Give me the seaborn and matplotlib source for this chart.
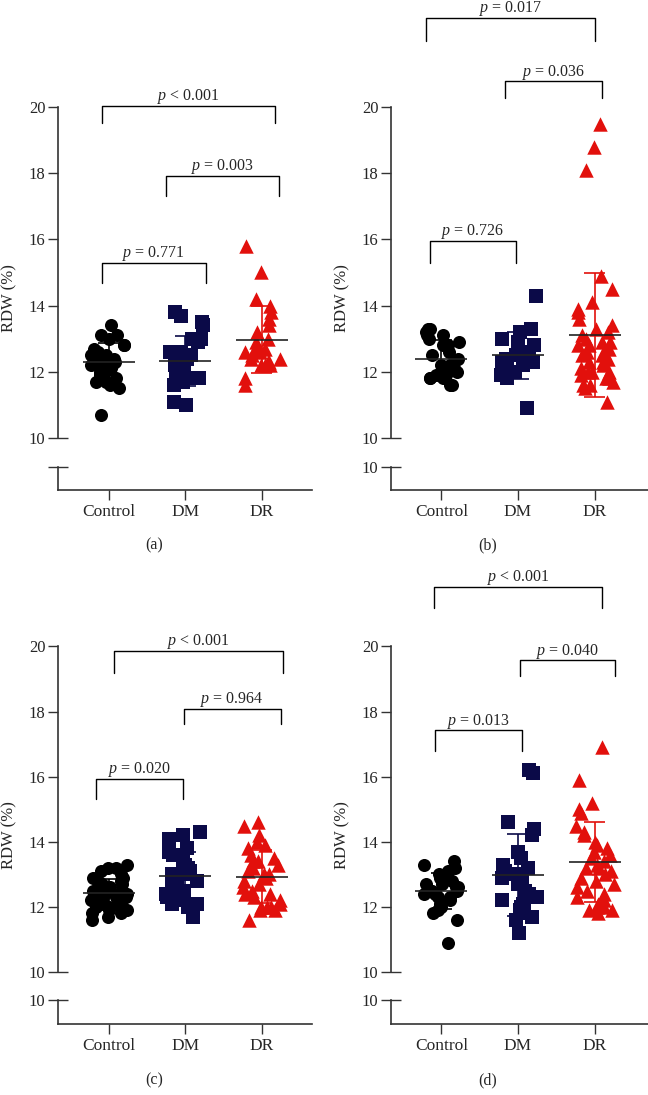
import numpy as np
import pandas as pd
import matplotlib
matplotlib.use("Agg")
import matplotlib.pyplot as plt
import seaborn as sns

sns.set_style("ticks")
plt.rcParams['font.family'] = ['Liberation Serif', 'DejaVu Serif']
plt.rcParams['mathtext.fontset'] = 'custom'
plt.rcParams['mathtext.rm'] = 'Liberation Serif'
plt.rcParams['mathtext.it'] = 'Liberation Serif:italic'

np.random.seed(3)

groups = ['Control', 'DM', 'DR']
colors = ['#000000', '#0b0a48', '#e2100c']
markers = ['o', 's', '^']
marker_sizes = [9.4, 9.4, 10.4]
panel_labels = ['(a)', '(b)', '(c)', '(d)']
lower_tick_labels = ['', '10', '10', '10']

# RDW values per panel and group
a_control = [13.4, 13.1, 13.1, 13.0, 12.8, 12.8, 12.7, 12.6, 12.5, 12.5, 12.5, 12.4, 12.4,
             12.3, 12.3, 12.2, 12.2, 12.1, 12.0, 12.0, 11.9, 11.8, 11.7, 11.7, 11.6, 11.5, 10.7]
a_dm = [13.8, 13.7, 13.5, 13.4, 13.0, 13.0, 12.9, 12.6, 12.6, 12.5, 12.4, 12.3, 12.2,
        12.1, 12.0, 12.0, 12.0, 11.9, 11.8, 11.8, 11.8, 11.7, 11.7, 11.6, 11.1, 11.0]
a_dr = [15.8, 15.0, 14.2, 14.0, 13.8, 13.6, 13.4, 13.2, 13.0, 12.9, 12.7, 12.7, 12.6,
        12.6, 12.5, 12.4, 12.4, 12.3, 12.3, 12.2, 12.2, 12.2, 11.8, 11.6]

b_control = [13.3, 13.3, 13.2, 13.1, 13.1, 13.0, 12.9, 12.8, 12.8, 12.6, 12.5, 12.4, 12.3,
             12.2, 12.2, 12.1, 12.1, 12.0, 12.0, 11.9, 11.9, 11.8, 11.8, 11.8, 11.6, 11.6]
b_dm = [14.3, 13.3, 13.2, 13.0, 12.9, 12.8, 12.6, 12.5, 12.5, 12.4, 12.4, 12.3, 12.3,
        12.2, 12.1, 12.0, 11.9, 11.8, 10.9]
b_dr = [19.5, 18.8, 18.1, 14.9, 14.5, 14.1, 13.9, 13.8, 13.6, 13.4, 13.3, 13.2, 13.1,
        13.0, 12.9, 12.9, 12.8, 12.8, 12.7, 12.6, 12.6, 12.5, 12.5, 12.4, 12.3, 12.3,
        12.2, 12.1, 12.0, 12.0, 12.0, 11.9, 11.8, 11.8, 11.7, 11.6, 11.6, 11.5, 11.1]

c_control = [13.3, 13.2, 13.2, 13.1, 13.0, 12.9, 12.9, 12.8, 12.8, 12.7, 12.7, 12.6, 12.6,
             12.6, 12.5, 12.5, 12.5, 12.4, 12.4, 12.4, 12.3, 12.3, 12.3, 12.3, 12.2, 12.2,
             12.2, 12.1, 12.1, 12.0, 12.0, 11.9, 11.9, 11.8, 11.8, 11.7, 11.6]
c_dm = [14.3, 14.2, 14.1, 14.0, 13.8, 13.7, 13.6, 13.4, 13.3, 13.2, 13.1, 13.0, 13.0,
        13.0, 12.9, 12.8, 12.7, 12.6, 12.5, 12.5, 12.4, 12.3, 12.2, 12.1, 12.1, 12.1,
        12.0, 11.7]
c_dr = [14.6, 14.5, 14.2, 14.0, 13.9, 13.8, 13.6, 13.5, 13.4, 13.4, 13.3, 13.2, 13.1,
        13.0, 13.0, 12.9, 12.8, 12.7, 12.6, 12.5, 12.4, 12.4, 12.3, 12.2, 12.1, 12.0,
        12.0, 12.0, 11.9, 11.9, 11.6]

d_control = [13.4, 13.3, 13.2, 13.1, 13.0, 12.9, 12.9, 12.8, 12.7, 12.7, 12.6, 12.6, 12.5,
             12.5, 12.5, 12.4, 12.4, 12.3, 12.3, 12.2, 12.1, 12.0, 11.9, 11.8, 11.6, 10.9]
d_dm = [16.2, 16.1, 14.6, 14.4, 14.2, 13.7, 13.5, 13.3, 13.2, 13.1, 13.0, 13.0, 12.9,
        12.8, 12.7, 12.5, 12.4, 12.3, 12.2, 12.1, 12.0, 12.0, 11.9, 11.8, 11.7, 11.6, 11.2]
d_dr = [16.9, 15.9, 15.2, 15.0, 14.9, 14.5, 14.3, 14.2, 14.0, 13.9, 13.8, 13.7, 13.6,
        13.5, 13.4, 13.3, 13.2, 13.2, 13.1, 13.0, 12.9, 12.8, 12.7, 12.6, 12.5, 12.4,
        12.3, 12.2, 12.1, 12.0, 12.0, 11.9, 11.9, 11.8]

panel_values = [[a_control, a_dm, a_dr], [b_control, b_dm, b_dr],
                [c_control, c_dm, c_dr], [d_control, d_dm, d_dr]]

# significance brackets: (x_left, x_right, bar height, leg bottom, label)
brackets = [
    [(-0.09, 2.17, 20.04, 19.51, r'$p$ < 0.001'),
     (0.75, 2.22, 17.92, 17.31, r'$p$ = 0.003'),
     (-0.09, 1.27, 15.30, 14.67, r'$p$ = 0.771')],
    [(-0.20, 2.00, 22.68, 22.00, r'$p$ = 0.017'),
     (0.83, 2.09, 20.77, 20.28, r'$p$ = 0.036'),
     (-0.15, 0.97, 15.94, 15.30, r'$p$ = 0.726')],
    [(0.07, 2.28, 19.86, 19.18, r'$p$ < 0.001'),
     (0.98, 2.25, 18.09, 17.61, r'$p$ = 0.964'),
     (-0.16, 0.97, 15.94, 15.30, r'$p$ = 0.020')],
    [(-0.10, 2.10, 21.82, 21.19, r'$p$ < 0.001'),
     (1.02, 2.27, 19.57, 19.09, r'$p$ = 0.040'),
     (-0.08, 1.05, 17.42, 16.79, r'$p$ = 0.013')],
]

fig = plt.figure(figsize=(6.48, 10.95), dpi=100)

col_left = [0.0895, 0.6034]
col_width = [0.392, 0.3966]
col_xlim = [(-0.663, 2.657), (-0.656, 2.695)]
row_top = [(0.600, 0.3023), (0.1123, 0.2973)]
row_low = [(0.5525, 0.0213), (0.0648, 0.0219)]
ylabel_x = [0.014, 0.528]
panel_label_x = [0.238, 0.752]
panel_label_y = [0.5023, 0.0137]

axis_color = '#333333'

for i in range(4):
    r, c = divmod(i, 2)
    ax = fig.add_axes([col_left[c], row_top[r][0], col_width[c], row_top[r][1]])
    axl = fig.add_axes([col_left[c], row_low[r][0], col_width[c], row_low[r][1]])

    vals = panel_values[i]
    for g in range(3):
        df = pd.DataFrame({'group': groups[g], 'RDW': vals[g]})
        sns.stripplot(data=df, x='group', y='RDW', order=groups, ax=ax,
                      color=colors[g], marker=markers[g], size=marker_sizes[g],
                      jitter=0.25, linewidth=0, zorder=3)
        m = np.mean(vals[g])
        sd = np.std(vals[g], ddof=1)
        ax.vlines(g, m - sd, m + sd, color=colors[g], lw=1.2, zorder=2)
        ax.hlines([m - sd, m + sd], g - 0.14, g + 0.14, color=colors[g], lw=1.2, zorder=2)
        ax.hlines(m, g - 0.34, g + 0.34, color='#222222', lw=1.2, zorder=4)
    for coll in ax.collections:
        coll.set_clip_on(False)

    for x0, x1, yb, yl, lab in brackets[i]:
        ax.plot([x0, x0, x1, x1], [yl, yb, yb, yl], color='black', lw=1.0,
                clip_on=False, zorder=5)
        ax.text((x0 + x1) / 2, yb + 0.18, lab, ha='center', va='baseline',
                fontsize=11.5, clip_on=False)

    ax.set_xlim(col_xlim[c])
    ax.set_ylim(10, 20)
    ax.set_yticks([12, 14, 16, 18, 20])
    ax.set_yticks([10], labels=['10'], minor=True)
    ax.tick_params(axis='y', which='major', direction='out', length=7, width=1,
                   color=axis_color, labelsize=12, pad=2)
    ax.tick_params(axis='y', which='minor', direction='inout', length=14, width=1,
                   color=axis_color, labelsize=12, pad=2)
    ax.set_xticks([])
    ax.set_xlabel('')
    ax.set_ylabel('')
    for s in ['top', 'right', 'bottom']:
        ax.spines[s].set_visible(False)
    ax.spines['left'].set_color(axis_color)
    ax.spines['left'].set_linewidth(1.2)

    axl.set_xlim(col_xlim[c])
    axl.set_ylim(9, 10)
    axl.set_yticks([10], labels=[lower_tick_labels[i]])
    axl.tick_params(axis='y', direction='inout', length=14, width=1,
                    color=axis_color, labelsize=12, pad=2)
    axl.set_xticks(range(3), labels=groups)
    axl.tick_params(axis='x', direction='out', length=7, width=1,
                    color=axis_color, labelsize=12.5, pad=3)
    for s in ['top', 'right']:
        axl.spines[s].set_visible(False)
    for s in ['left', 'bottom']:
        axl.spines[s].set_color(axis_color)
        axl.spines[s].set_linewidth(1.2)

    y_mid = (row_top[r][0] + row_top[r][1] + row_low[r][0]) / 2
    fig.text(ylabel_x[c], y_mid, 'RDW (%)', rotation=90, ha='center', va='center',
             fontsize=12)
    fig.text(panel_label_x[c], panel_label_y[r], panel_labels[i], ha='center',
             va='center', fontsize=11.5)

fig.savefig('out.png', dpi=100)
